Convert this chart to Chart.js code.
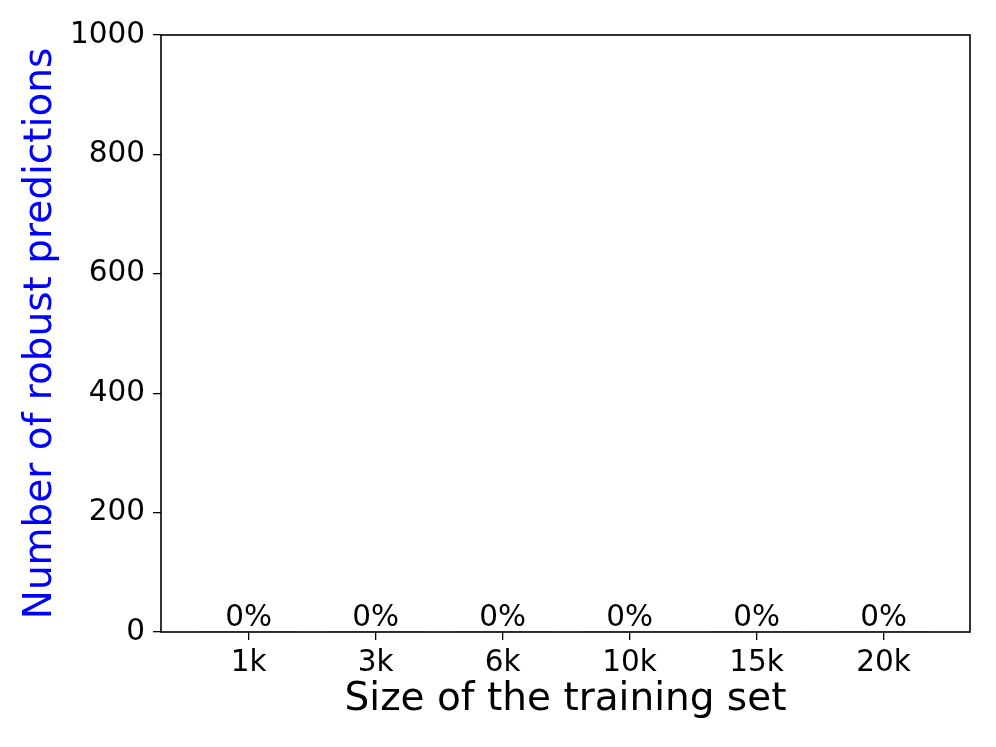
<!DOCTYPE html>
<html>
<head>
<meta charset="utf-8">
<script src="https://cdn.jsdelivr.net/npm/chart.js@4"></script>
<style>
  html, body { margin: 0; padding: 0; background: #fff; }
  #wrap { width: 996px; height: 747px; }
</style>
</head>
<body>
<div id="wrap"><canvas id="robust-chart" width="996" height="747"></canvas></div>
<script>
const sizes = ["1k", "3k", "6k", "10k", "15k", "20k"];
const robustCounts = [0, 0, 0, 0, 0, 0];
const robustShare = ["0%", "0%", "0%", "0%", "0%", "0%"];
const yTicks = [0, 200, 400, 600, 800, 1000];

const font = "'DejaVu Sans', sans-serif";

// frame around the plot + percentage labels above each bar
const framePlugin = {
  id: "frame",
  afterDraw(chart) {
    const ctx = chart.ctx, a = chart.chartArea;
    const xs = chart.scales.x, ys = chart.scales.y;
    ctx.save();
    ctx.strokeStyle = "#000";
    ctx.lineWidth = 1.6;
    ctx.strokeRect(a.left, a.top, a.right - a.left, a.bottom - a.top);
    ctx.fillStyle = "#000";
    ctx.font = "29.5px " + font;
    ctx.textAlign = "center";
    ctx.textBaseline = "alphabetic";
    robustCounts.forEach((v, i) => {
      ctx.fillText(robustShare[i], xs.getPixelForValue(i), ys.getPixelForValue(v) - 6);
    });
    ctx.restore();
  }
};

new Chart(document.getElementById("robust-chart"), {
  type: "bar",
  data: {
    datasets: [{
      label: "Robust predictions",
      data: robustCounts.map((v, i) => ({ x: i, y: v })),
      backgroundColor: "#1f77b4",
      barThickness: 100
    }]
  },
  options: {
    responsive: false,
    animation: false,
    layout: { padding: { top: 35, right: 26, left: 0, bottom: 0 } },
    plugins: { legend: { display: false }, tooltip: { enabled: false } },
    scales: {
      x: {
        type: "linear",
        offset: false,
        min: -0.69,
        max: 5.68,
        afterBuildTicks: s => { s.ticks = sizes.map((_, i) => ({ value: i })); },
        afterFit: s => { s.height = 115; },
        grid: { display: true, offset: false, drawOnChartArea: false, drawTicks: true, tickLength: 8, color: "#000", lineWidth: 1.3 },
        border: { display: false },
        ticks: {
          color: "#000",
          font: { family: font, size: 29.5 },
          padding: 6,
          maxRotation: 0,
          autoSkip: false,
          callback: v => sizes[v]
        },
        title: {
          display: true,
          text: "Size of the training set",
          color: "#000",
          font: { family: font, size: 39 },
          padding: { top: 0, bottom: 24 }
        }
      },
      y: {
        min: 0,
        max: 1000,
        afterBuildTicks: s => { s.ticks = yTicks.map(v => ({ value: v })); },
        afterFit: s => { s.width = 161; },
        grid: { display: true, drawOnChartArea: false, drawTicks: true, tickLength: 8, color: "#000", lineWidth: 1.3 },
        border: { display: false },
        ticks: {
          color: "#000",
          font: { family: font, size: 29.5 },
          padding: 8,
          callback: v => String(v)
        },
        title: {
          display: true,
          text: "Number of robust predictions",
          color: "#0000ff",
          font: { family: font, size: 39 },
          padding: { top: 17, bottom: 0 }
        }
      }
    }
  },
  plugins: [framePlugin]
});
</script>
</body>
</html>
